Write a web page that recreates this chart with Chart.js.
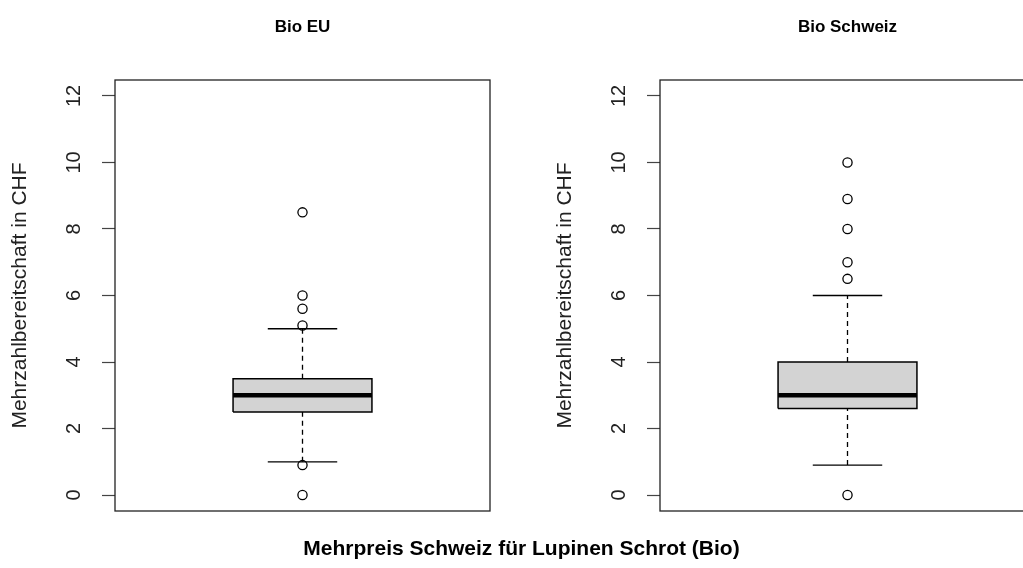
<!DOCTYPE html>
<html>
<head>
<meta charset="utf-8">
<script src="https://cdn.jsdelivr.net/npm/chart.js@4/dist/chart.umd.min.js"></script>
<style>
  html, body { margin: 0; padding: 0; background: #fff; overflow: hidden; }
  body { width: 1023px; height: 568px; position: relative; font-family: "Liberation Sans", Arial, sans-serif; }
  canvas { position: absolute; top: 0; }
  #left { left: 0; }
  #right { left: 545px; }
  #xlabel { position: absolute; left: 0; width: 1043px; top: 536px; line-height: 24px; text-align: center;
            font-weight: bold; font-size: 21px; color: #000; }
</style>
</head>
<body>
<canvas id="left" width="511" height="568"></canvas>
<canvas id="right" width="511" height="568"></canvas>
<div id="xlabel">Mehrpreis Schweiz für Lupinen Schrot (Bio)</div>
<script>
// boxplot stats
const groups = ["Bio EU", "Bio Schweiz"];
const lowerWhisker = [1, 0.9];
const q1 = [2.5, 2.6];
const median = [3, 3];
const q3 = [3.5, 4];
const upperWhisker = [5, 6];
const outliersEU = [0, 0.9, 5.1, 5.6, 6, 8.5];
const outliersCH = [0, 6.5, 7, 8, 8.9, 10];
const yTicks = [0, 2, 4, 6, 8, 10, 12];
const yLabel = "Mehrzahlbereitschaft in CHF";

const FONT = "'Liberation Sans', Arial, sans-serif";

// frame around plot + panel title over the plot region
const framePlugin = {
  id: "frame",
  afterDraw(chart, args, opts) {
    const { ctx, chartArea: a } = chart;
    ctx.save();
    ctx.strokeStyle = "#222";
    ctx.lineWidth = 1.3;
    ctx.strokeRect(a.left, a.top, a.right - a.left, a.bottom - a.top);
    ctx.fillStyle = "#000";
    ctx.font = "bold 17px " + FONT;
    ctx.textAlign = "center";
    ctx.textBaseline = "middle";
    ctx.fillText(opts.title, (a.left + a.right) / 2, 27);
    ctx.restore();
  },
};

function seg(x0, y0, x1, y1) {
  return [{ x: x0, y: y0 }, { x: x1, y: y1 }];
}

function lineSet(data, extra) {
  return Object.assign({
    type: "scatter",
    data: data,
    showLine: true,
    borderColor: "#000",
    borderWidth: 1.3,
    pointRadius: 0,
    fill: false,
  }, extra || {});
}

function makeBox(canvasId, i, outliers) {
  // chart.js paints the last dataset first, so the fill sits at the end
  const datasets = [
    // outliers
    {
      type: "scatter",
      data: outliers.map((v) => ({ x: 1, y: v })),
      pointStyle: "circle",
      pointRadius: 4.6,
      borderWidth: 1.3,
      borderColor: "#000",
      backgroundColor: "rgba(0,0,0,0)",
    },
    // median
    lineSet(seg(0.8, median[i], 1.2, median[i]), { borderWidth: 4.5, borderCapStyle: "butt" }),
    // box outline
    lineSet([
      { x: 0.8, y: q1[i] }, { x: 1.2, y: q1[i] }, { x: 1.2, y: q3[i] },
      { x: 0.8, y: q3[i] }, { x: 0.8, y: q1[i] },
    ], { borderWidth: 1.5 }),
    // whiskers and caps
    lineSet(seg(0.9, upperWhisker[i], 1.1, upperWhisker[i])),
    lineSet(seg(0.9, lowerWhisker[i], 1.1, lowerWhisker[i])),
    lineSet(seg(1, q3[i], 1, upperWhisker[i]), { borderDash: [5, 4] }),
    lineSet(seg(1, lowerWhisker[i], 1, q1[i]), { borderDash: [5, 4] }),
    // box fill
    lineSet(seg(0.8, q3[i], 1.2, q3[i]), {
      borderWidth: 0,
      backgroundColor: "#d3d3d3",
      fill: { value: q1[i] },
    }),
  ];

  return new Chart(document.getElementById(canvasId), {
    type: "scatter",
    data: { datasets: datasets },
    plugins: [framePlugin],
    options: {
      responsive: false,
      animation: false,
      events: [],
      layout: { padding: { left: 0, right: 21, top: 80, bottom: 57 } },
      plugins: {
        legend: { display: false },
        tooltip: { enabled: false },
        frame: { title: groups[i] },
      },
      scales: {
        x: { type: "linear", min: 0.46, max: 1.54, display: false },
        y: {
          type: "linear",
          min: -0.48,
          max: 12.48,
          afterFit: (s) => { s.width = 115; },
          afterBuildTicks: (s) => { s.ticks = yTicks.map((v) => ({ value: v })); },
          border: { display: false },
          grid: {
            drawOnChartArea: false,
            drawTicks: true,
            tickLength: 13,
            tickWidth: 1.2,
            tickColor: "#444",
          },
          ticks: {
            minRotation: 90,
            maxRotation: 90,
            crossAlign: "center",
            padding: 16,
            color: "#222",
            font: { family: FONT, size: 20 },
          },
          title: {
            display: true,
            text: yLabel,
            color: "#222",
            padding: { top: 8, bottom: 0 },
            font: { family: FONT, size: 21 },
          },
        },
      },
    },
  });
}

makeBox("left", 0, outliersEU);
makeBox("right", 1, outliersCH);
</script>
</body>
</html>
